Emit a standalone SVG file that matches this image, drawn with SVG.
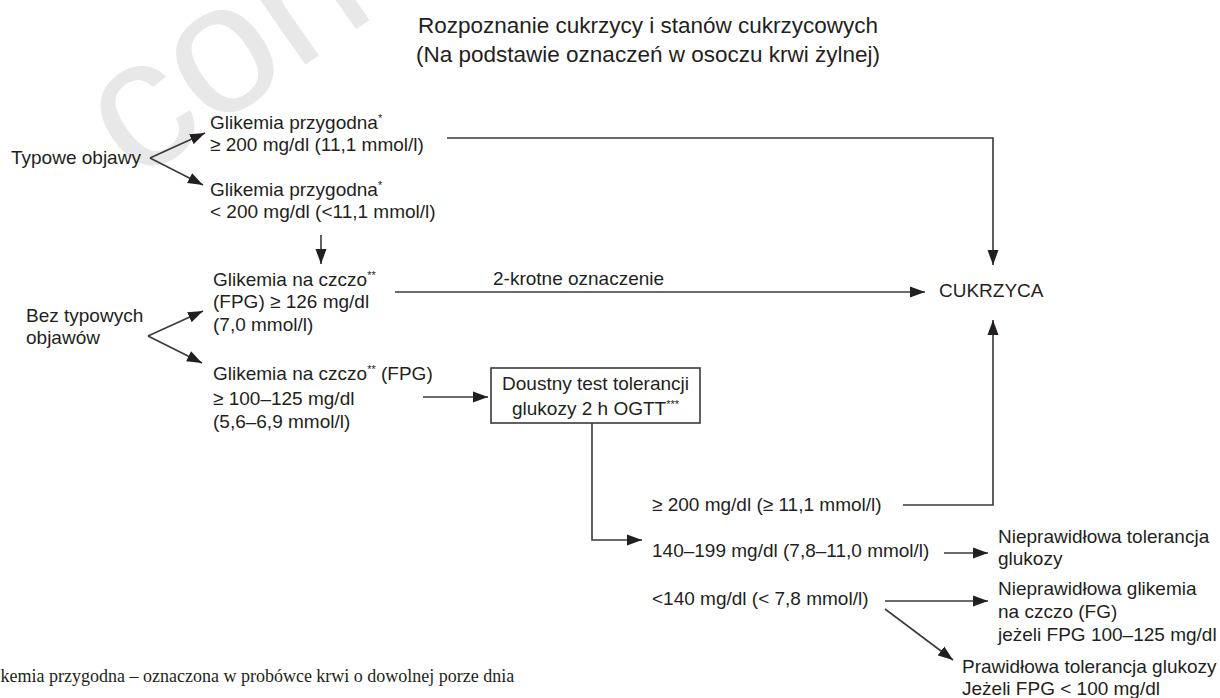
<svg xmlns="http://www.w3.org/2000/svg" width="1220" height="698" viewBox="0 0 1220 698">
  <defs>
    <style>
      .t { font-family: "Liberation Sans", Arial, sans-serif; font-size: 19px; fill: #231f20; }
      .title { font-family: "Liberation Sans", Arial, sans-serif; font-size: 22.5px; fill: #231f20; }
      .foot { font-family: "Liberation Serif", "Times New Roman", serif; font-size: 18px; fill: #231f20; }
      .sup { font-size: 11px; }
      .arr { fill: none; stroke: #3a3a3a; stroke-width: 1.6; marker-end: url(#ah); }
      .box { fill: #ffffff; stroke: #3a3a3a; stroke-width: 1.6; }
      .wm { font-family: "Liberation Sans", Arial, sans-serif; font-size: 185px; fill: #e8e8e8; }
    </style>
    <marker id="ah" markerWidth="16" markerHeight="12" refX="15" refY="6" orient="auto" markerUnits="userSpaceOnUse">
      <path d="M0,0.5 L15,6 L0,11.5 Z" fill="#231f20"/>
    </marker>
  </defs>
  <rect width="1220" height="698" fill="#ffffff"/>

  <text class="wm" transform="translate(135,184) rotate(-35)">con</text>

  <g id="title">
    <text class="title" x="648" y="33" text-anchor="middle">Rozpoznanie cukrzycy i stanów cukrzycowych</text>
    <text class="title" x="648" y="62" text-anchor="middle">(Na podstawie oznaczeń w osoczu krwi żylnej)</text>
  </g>

  <g id="connectors">
    <line class="arr" x1="150" y1="158" x2="205" y2="133"/>
    <line class="arr" x1="150" y1="158" x2="203" y2="185"/>
    <line class="arr" x1="321" y1="235" x2="321" y2="264"/>
    <polyline class="arr" points="447,138 993,138 993,265"/>
    <line class="arr" x1="148" y1="336" x2="203" y2="311"/>
    <line class="arr" x1="148" y1="336" x2="202" y2="363"/>
    <line class="arr" x1="395" y1="292" x2="925" y2="292"/>
    <line class="arr" x1="423" y1="397" x2="488" y2="397"/>
    <polyline class="arr" points="592,423 592,540 642,540"/>
    <polyline class="arr" points="903,505 993,505 993,320"/>
    <line class="arr" x1="944" y1="553" x2="988" y2="553"/>
    <line class="arr" x1="885" y1="601" x2="988" y2="601"/>
    <line class="arr" x1="885" y1="609" x2="953" y2="660"/>
  </g>

  <g id="typowe">
    <text class="t" x="11" y="164">Typowe objawy</text>
  </g>
  <g id="przygodna-high">
    <text class="t" x="210" y="129">Glikemia przygodna<tspan class="sup" dy="-7">*</tspan></text>
    <text class="t" x="210" y="151">≥ 200 mg/dl (11,1 mmol/l)</text>
  </g>
  <g id="przygodna-low">
    <text class="t" x="210" y="196">Glikemia przygodna<tspan class="sup" dy="-7">*</tspan></text>
    <text class="t" x="210" y="218">&lt; 200 mg/dl (&lt;11,1 mmol/l)</text>
  </g>
  <g id="bez">
    <text class="t" x="26" y="322">Bez typowych</text>
    <text class="t" x="26" y="344">objawów</text>
  </g>
  <g id="fpg-high">
    <text class="t" x="213" y="286">Glikemia na czczo<tspan class="sup" dy="-7">**</tspan></text>
    <text class="t" x="213" y="308">(FPG) ≥ 126 mg/dl</text>
    <text class="t" x="213" y="331">(7,0 mmol/l)</text>
  </g>
  <g id="label-2krotne">
    <text class="t" x="493" y="285">2-krotne oznaczenie</text>
  </g>
  <g id="fpg-mid">
    <text class="t" x="213" y="380">Glikemia na czczo<tspan class="sup" dy="-7">**</tspan><tspan dy="7"> (FPG)</tspan></text>
    <text class="t" x="213" y="405">≥ 100–125 mg/dl</text>
    <text class="t" x="213" y="428">(5,6–6,9 mmol/l)</text>
  </g>
  <g id="ogtt">
    <rect class="box" x="491" y="368" width="209" height="55"/>
    <text class="t" x="595.5" y="390" text-anchor="middle">Doustny test tolerancji</text>
    <text class="t" x="595.5" y="415" text-anchor="middle">glukozy 2 h OGTT<tspan class="sup" dy="-7">***</tspan></text>
  </g>
  <g id="cukrzyca">
    <text class="t" x="939" y="297">CUKRZYCA</text>
  </g>
  <g id="res-200">
    <text class="t" x="652" y="511">≥ 200 mg/dl (≥ 11,1 mmol/l)</text>
  </g>
  <g id="res-140">
    <text class="t" x="652" y="557">140–199 mg/dl (7,8–11,0 mmol/l)</text>
  </g>
  <g id="res-low">
    <text class="t" x="652" y="605">&lt;140 mg/dl (&lt; 7,8 mmol/l)</text>
  </g>
  <g id="ntg">
    <text class="t" x="998" y="543">Nieprawidłowa tolerancja</text>
    <text class="t" x="998" y="565">glukozy</text>
  </g>
  <g id="nfg">
    <text class="t" x="998" y="595">Nieprawidłowa glikemia</text>
    <text class="t" x="998" y="618">na czczo (FG)</text>
    <text class="t" x="998" y="641">jeżeli FPG 100–125 mg/dl</text>
  </g>
  <g id="ptg">
    <text class="t" x="962" y="673">Prawidłowa tolerancja glukozy</text>
    <text class="t" x="962" y="695">Jeżeli FPG &lt; 100 mg/dl</text>
  </g>
  <g id="footnote">
    <text class="foot" x="0.5" y="682">kemia przygodna – oznaczona w probówce krwi o dowolnej porze dnia</text>
  </g>
</svg>
